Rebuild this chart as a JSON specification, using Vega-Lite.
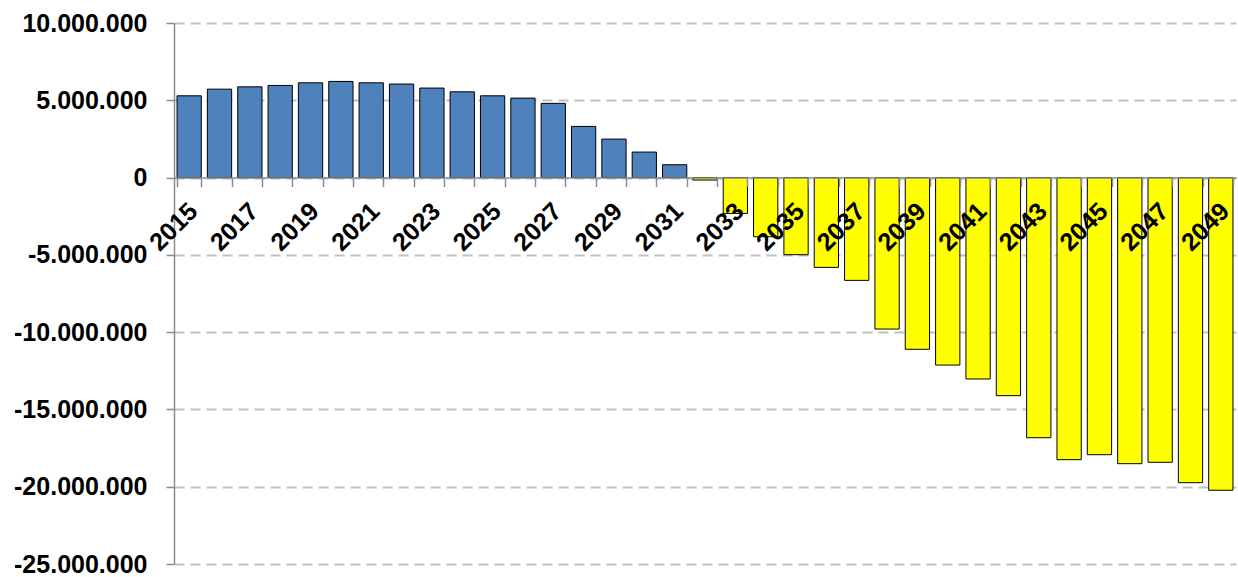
{
  "$schema": "https://vega.github.io/schema/vega-lite/v6.json",
  "width": 1062,
  "height": 541,
  "autosize": {"type": "none"},
  "padding": {"left": 174, "top": 23, "right": 2, "bottom": 13},
  "background": "white",
  "config": {"view": {"stroke": null}, "font": "Liberation Sans"},
  "data": {
    "values": [
      {"year": 2015, "value": 5290000},
      {"year": 2016, "value": 5720000},
      {"year": 2017, "value": 5870000},
      {"year": 2018, "value": 5960000},
      {"year": 2019, "value": 6130000},
      {"year": 2020, "value": 6220000},
      {"year": 2021, "value": 6130000},
      {"year": 2022, "value": 6050000},
      {"year": 2023, "value": 5790000},
      {"year": 2024, "value": 5550000},
      {"year": 2025, "value": 5290000},
      {"year": 2026, "value": 5140000},
      {"year": 2027, "value": 4800000},
      {"year": 2028, "value": 3310000},
      {"year": 2029, "value": 2490000},
      {"year": 2030, "value": 1650000},
      {"year": 2031, "value": 830000},
      {"year": 2032, "value": -160000},
      {"year": 2033, "value": -2320000},
      {"year": 2034, "value": -3830000},
      {"year": 2035, "value": -4990000},
      {"year": 2036, "value": -5810000},
      {"year": 2037, "value": -6650000},
      {"year": 2038, "value": -9800000},
      {"year": 2039, "value": -11110000},
      {"year": 2040, "value": -12130000},
      {"year": 2041, "value": -13030000},
      {"year": 2042, "value": -14110000},
      {"year": 2043, "value": -16830000},
      {"year": 2044, "value": -18250000},
      {"year": 2045, "value": -17930000},
      {"year": 2046, "value": -18510000},
      {"year": 2047, "value": -18420000},
      {"year": 2048, "value": -19740000},
      {"year": 2049, "value": -20230000}
    ]
  },
  "layer": [
    {
      "mark": {"type": "bar", "stroke": "#000000", "strokeWidth": 1},
      "encoding": {
        "x": {
          "field": "year",
          "type": "ordinal",
          "scale": {"paddingInner": 0.2, "paddingOuter": 0.1},
          "axis": {
            "orient": "bottom",
            "offset": -386.43,
            "labels": false,
            "title": null,
            "grid": false,
            "tickBand": "extent",
            "tickSize": 9,
            "tickColor": "#8C8C8C",
            "tickWidth": 1.5,
            "domainColor": "#8C8C8C",
            "domainWidth": 1.5,
            "zindex": 1
          }
        },
        "y": {
          "field": "value",
          "type": "quantitative",
          "scale": {"domain": [-25000000, 10000000], "nice": false, "zero": true},
          "axis": {
            "title": null,
            "values": [-25000000, -20000000, -15000000, -10000000, -5000000, 0, 5000000, 10000000],
            "grid": true,
            "gridDash": [10, 6],
            "gridColor": "#C0C0C0",
            "gridWidth": 2,
            "domainColor": "#8C8C8C",
            "domainWidth": 1.5,
            "tickColor": "#8C8C8C",
            "tickWidth": 1.5,
            "tickSize": 8,
            "labelPadding": 19,
            "labelFontSize": 25,
            "labelFontWeight": "bold",
            "labelColor": "#000000",
            "labelFont": "Liberation Sans",
            "labelExpr": "replace(replace(format(datum.value, ','), regexp(',', 'g'), '.'), '\u2212', '-')"
          }
        },
        "color": {
          "condition": {"test": "datum.value < 0", "value": "#FFFF00"},
          "value": "#4F81BD"
        }
      }
    },
    {
      "transform": [{"filter": "datum.year % 2 == 1"}],
      "mark": {
        "type": "text",
        "angle": -45,
        "align": "right",
        "baseline": "middle",
        "dx": -18,
        "dy": 24,
        "fontSize": 25,
        "fontWeight": "bold",
        "font": "Liberation Sans",
        "color": "#000000"
      },
      "encoding": {
        "x": {"field": "year", "type": "ordinal"},
        "y": {"datum": 0, "type": "quantitative"},
        "text": {"field": "year", "type": "nominal"}
      }
    }
  ]
}
